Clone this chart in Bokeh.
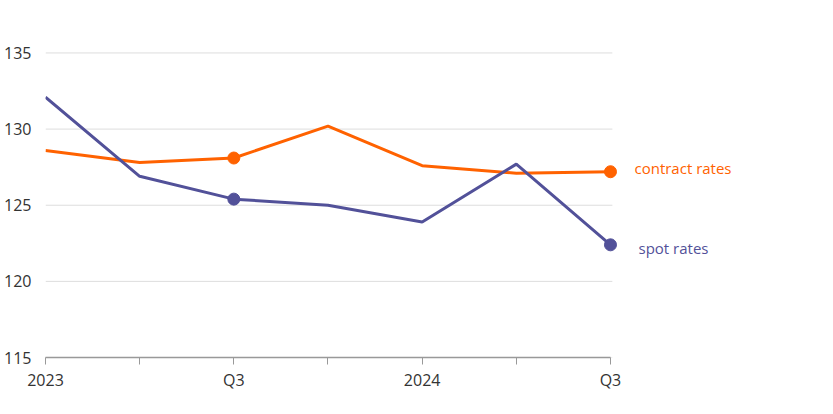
from bokeh.plotting import figure
from bokeh.models import FixedTicker, Label, Range1d
from bokeh.embed import file_html
from bokeh.resources import INLINE

quarters = [0, 1, 2, 3, 4, 5, 6]
tick_labels = {0: "2023", 1: "", 2: "Q3", 3: "", 4: "2024", 5: "", 6: "Q3"}
spot_rates = [132.1, 126.9, 125.4, 125.0, 123.9, 127.7, 122.4]
contract_rates = [128.6, 127.8, 128.1, 130.2, 127.6, 127.1, 127.2]
marker_idx = [2, 6]
y_ticks = [115, 120, 125, 130, 135]

ORANGE = "#FF6200"
PURPLE = "#525199"
FONT = "Open Sans"

p = figure(width=833, height=406, output_backend="svg", toolbar_location=None,
           x_range=Range1d(0, 8.018), y_range=Range1d(115, 137),
           min_border_left=45, min_border_right=33, min_border_top=22, min_border_bottom=49)
p.outline_line_color = None
p.background_fill_color = "white"

# horizontal gridlines limited to the data span
p.segment(x0=[quarters[0]] * len(y_ticks), x1=[quarters[-1] + 0.02] * len(y_ticks),
          y0=y_ticks, y1=y_ticks, line_color="#dddddd", line_width=1)

p.line(quarters, contract_rates, line_color=ORANGE, line_width=3)
p.line(quarters, spot_rates, line_color=PURPLE, line_width=3)
p.scatter([quarters[i] for i in marker_idx], [contract_rates[i] for i in marker_idx],
          size=12, color=ORANGE)
p.scatter([quarters[i] for i in marker_idx], [spot_rates[i] for i in marker_idx],
          size=12, color=PURPLE)

p.xgrid.grid_line_color = None
p.ygrid.grid_line_color = None

p.yaxis.ticker = FixedTicker(ticks=y_ticks)
p.yaxis.axis_line_color = None
p.yaxis.major_tick_line_color = None
p.yaxis.minor_tick_line_color = None
p.yaxis.major_label_standoff = 8
p.yaxis.major_label_text_font = FONT
p.yaxis.major_label_text_font_size = "16px"
p.yaxis.major_label_text_color = "#333333"

p.xaxis.ticker = FixedTicker(ticks=quarters)
p.xaxis.bounds = (quarters[0], quarters[-1])
p.xaxis.major_label_overrides = tick_labels
p.xaxis.axis_line_color = "#999999"
p.xaxis.axis_line_width = 1.5
p.xaxis.major_tick_line_color = "#999999"
p.xaxis.major_tick_in = 0
p.xaxis.major_tick_out = 7
p.xaxis.minor_tick_line_color = None
p.xaxis.major_label_standoff = 4
p.xaxis.major_label_text_font = FONT
p.xaxis.major_label_text_font_size = "16px"
p.xaxis.major_label_text_color = "#333333"

p.add_layout(Label(x=quarters[-1], y=127.46, x_offset=24, text="contract rates", text_color=ORANGE,
                   text_font=FONT, text_font_size="15px", text_baseline="middle"))
p.add_layout(Label(x=quarters[-1], y=122.21, x_offset=28, text="spot rates", text_color=PURPLE,
                   text_font=FONT, text_font_size="15px", text_baseline="middle"))

open("out.html", "w").write(file_html(p, INLINE))
